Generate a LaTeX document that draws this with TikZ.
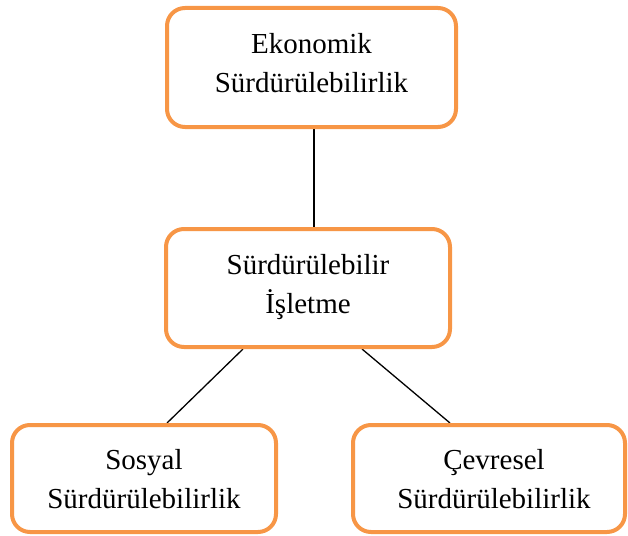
\documentclass[tikz,border=0pt]{standalone}
\usepackage{fontspec}
\setmainfont{Liberation Serif}
\usetikzlibrary{calc,backgrounds}
\definecolor{boxorange}{HTML}{F79646}
\tikzset{
  sbox/.style={draw=boxorange, line width=4pt, rounded corners=18pt, fill=white,
    inner sep=0pt, align=center, text depth=0pt,
    font=\fontsize{29}{39}\selectfont},
  conn/.style={draw=black, line width=1.3pt}
}
\begin{document}
\begin{tikzpicture}[x=1pt,y=-1pt]
\useasboundingbox (0,0) rectangle (628,535);
\node[sbox, minimum width=289pt, minimum height=119pt, text height=49pt] (eco) at (311.5,67.5) {Ekonomik\\Sürdürülebilirlik};
\node[sbox, minimum width=284pt, minimum height=118pt, text height=50pt] (mid) at (308,288) {Sürdürülebilir\\İşletme};
\node[sbox, minimum width=264pt, minimum height=107pt, text height=59pt] (soc) at (144,478.5) {Sosyal\\Sürdürülebilirlik};
\node[sbox, minimum width=272pt, minimum height=107pt, text height=59pt] (env) at (489,478.5) {\hspace*{10pt}Çevresel\\\hspace*{10pt}Sürdürülebilirlik};
\begin{scope}[on background layer]
\draw[conn] ($(eco.south)+(2.5,0)$) -- ($(mid.north)+(6,0)$);
\draw[conn] ($(mid.south)+(-65,0)$) -- ($(soc.north)+(23,0)$);
\draw[conn] ($(mid.south)+(54,0)$) -- ($(env.north)+(-39,0)$);
\end{scope}
\end{tikzpicture}
\end{document}
